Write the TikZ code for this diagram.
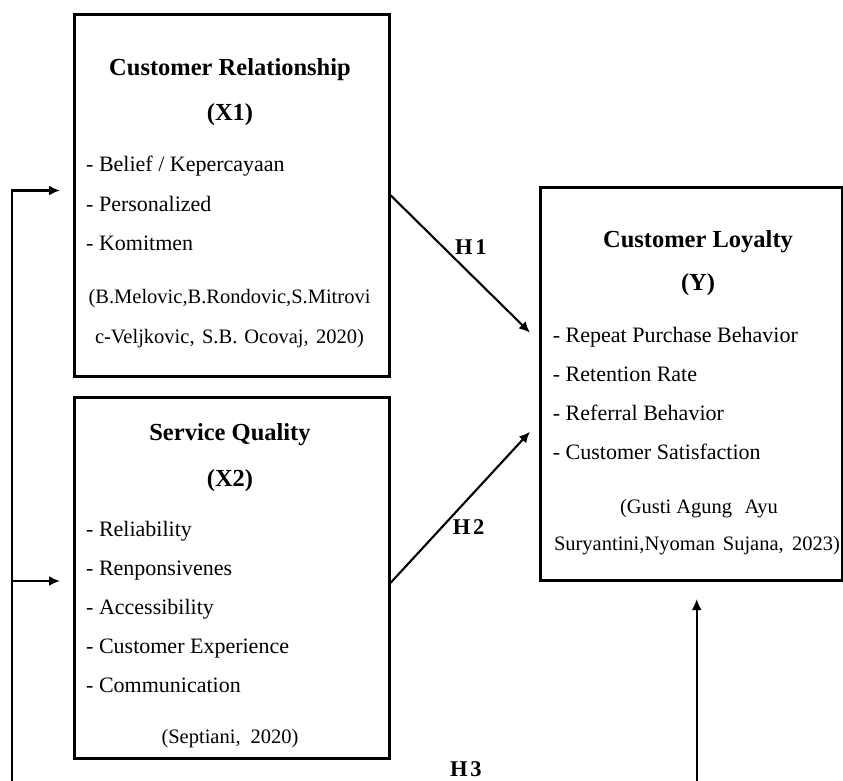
\documentclass[tikz,border=0pt]{standalone}
\usepackage{fontspec}
\setmainfont{Liberation Serif}
\usetikzlibrary{arrows.meta}
\begin{document}
\begin{tikzpicture}[x=1pt,y=-1pt,
  box/.style={draw, line width=2.6pt, inner sep=0pt, anchor=north west},
  ttl/.style={anchor=base, inner sep=0pt, font=\fontsize{24.5}{28}\selectfont\bfseries},
  itm/.style={anchor=base west, inner sep=0pt, font=\fontsize{22}{26}\selectfont},
  cit/.style={anchor=base, inner sep=0pt, font=\fontsize{20.5}{24}\selectfont},
  hlab/.style={anchor=base west, inner sep=0pt, font=\fontsize{22.5}{26}\selectfont\bfseries},
  arr/.style={line width=2.1pt, -{Latex[length=11pt,width=10pt]}}]
\useasboundingbox (0,0) rectangle (843,780);
% boxes
\node[box, minimum width=315pt, minimum height=362pt] (X1) at (73,13) {};
\node[box, minimum width=315pt, minimum height=361pt] (X2) at (73,396) {};
\node[box, minimum width=302pt, minimum height=393pt] (Y) at (539,186) {};
% X1 text
\node[ttl] (t1) at (230,75) {Customer Relationship};
\node[ttl] (t1b) at (230,120) {(X1)};
\node[itm] (i11) at (86,171.7) {- Belief / Kepercayaan};
\node[itm] (i12) at (86,211.7) {- Personalized};
\node[itm] (i13) at (86,250.7) {- Komitmen};
\node[cit] (c11) at (229.5,303) {(B.Melovic,B.Rondovic,S.Mitrovi};
\node[cit] (c12) at (229.5,343) {\makebox[269pt][s]{c-Veljkovic, S.B. Ocovaj, 2020)}};
% X2 text
\node[ttl] (t2) at (230,440) {Service Quality};
\node[ttl] (t2b) at (230,486) {(X2)};
\node[itm] (i21) at (86,536) {- Reliability};
\node[itm] (i22) at (86,575) {- Renponsivenes};
\node[itm] (i23) at (86,614.3) {- Accessibility};
\node[itm] (i24) at (86,653.3) {- Customer Experience};
\node[itm] (i25) at (86,692.3) {- Communication};
\node[cit] (c2) at (230,743.3) {\makebox[137pt][s]{(Septiani, 2020)}};
% Y text
\node[ttl] (t3) at (698,247) {Customer Loyalty};
\node[ttl] (t3b) at (698,290) {(Y)};
\node[itm] (i31) at (552.7,342.7) {- Repeat Purchase Behavior};
\node[itm] (i32) at (552.7,381.7) {- Retention Rate};
\node[itm] (i33) at (552.7,420.7) {- Referral Behavior};
\node[itm] (i34) at (552.7,459.3) {- Customer Satisfaction};
\node[cit] (c31) at (699,513.3) {(Gusti Agung\hspace{0.6em}Ayu};
\node[cit] (c32) at (697,550.7) {\makebox[286pt][s]{Suryantini,Nyoman Sujana, 2023)}};
% hypothesis labels
\node[hlab] (h1) at (455,254) {H\hspace{0.12em}1};
\node[hlab] (h2) at (452.7,534.3) {H\hspace{0.12em}2};
\node[hlab] (h3) at (450,776) {H\hspace{0.12em}3};
% connectors
\coordinate (p1) at (530,332.7);
\coordinate (p2) at (530,431.7);
\draw[arr] (X1.east) -- (p1);
\draw[arr] ([yshift=-5pt]X2.east) -- (p2);
\coordinate (fb) at (12.3,781);
\coordinate (a1) at (60,190.5);
\coordinate (j2) at (12.3,581);
\coordinate (a2) at (60,581);
\draw[arr] (fb) |- (a1);
\draw[arr] (j2) -- (a2);
\coordinate (fr) at (696.7,781);
\coordinate (ar) at (696.7,599);
\draw[arr] (fr) -- (ar);
\end{tikzpicture}
\end{document}
